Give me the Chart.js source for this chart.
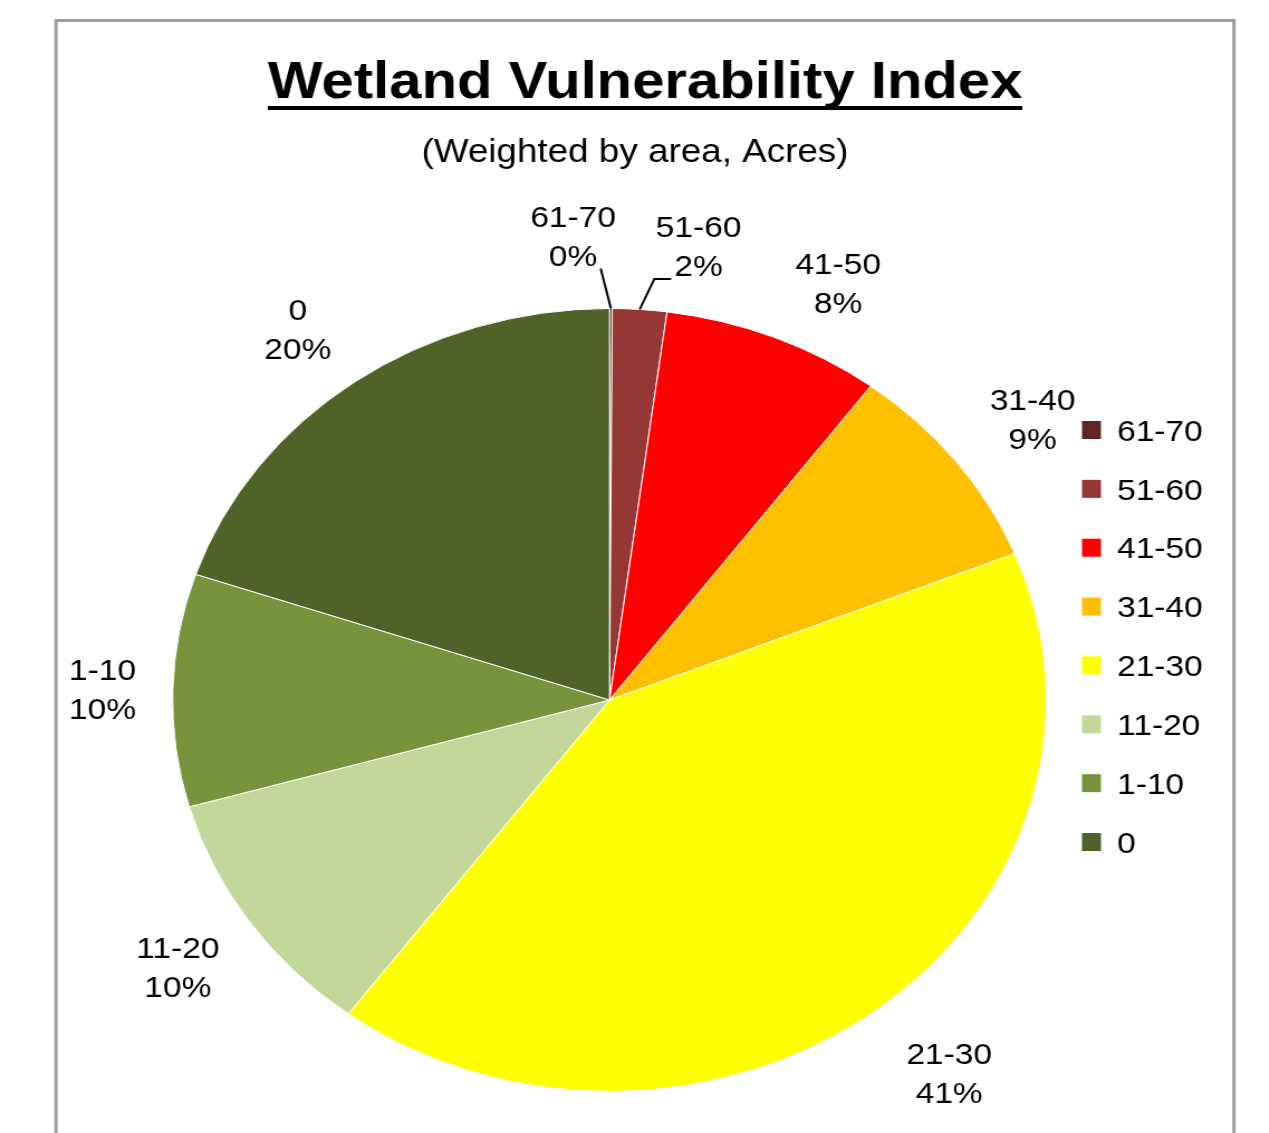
<!DOCTYPE html>
<html>
<head>
<meta charset="utf-8">
<script src="https://cdn.jsdelivr.net/npm/chart.js@4.4.0/dist/chart.umd.min.js"></script>
<style>
html,body{margin:0;padding:0;background:#fff;overflow:hidden;width:1269px;height:1133px;}
#wrap{position:absolute;left:0;top:0;width:1137px;height:1133px;transform:scaleX(1.116);transform-origin:0 0;}
canvas{display:block;}
</style>
</head>
<body>
<div id="wrap"><canvas id="chart" width="1137" height="1133"></canvas></div>
<script>
// ---- data ----
const categories = ['61-70', '51-60', '41-50', '31-40', '21-30', '11-20', '1-10', '0'];
const sharePercent = [0.1, 2.0, 8.1, 8.7, 41.3, 10.4, 9.6, 19.8];
const sliceColors = ['#632523', '#953735', '#FF0000', '#FFC000', '#FFFF00', '#C4D79B', '#77933C', '#4F6228'];
const titleText = 'Wetland Vulnerability Index';
const subtitleText = '(Weighted by area, Acres)';

// ---- styling / layout ----
const FONT = '"Liberation Sans", Arial, sans-serif';
const labelAngleNudge = { '61-70': -4.2, '51-60': 6, '41-50': 4, '31-40': 1, '21-30': -1.6, '0': -1.3 };
const labelRadialExtra = { '61-70': 5, '21-30': 10, '0': -5 };

const decorPlugin = {
  id: 'decor',
  beforeDraw(chart, args, opts) {
    const ctx = chart.ctx;
    ctx.save();
    ctx.fillStyle = '#fff';
    ctx.fillRect(0, 0, chart.width, chart.height);
    const f = opts.frame;
    ctx.strokeStyle = '#9e9e9e';
    ctx.lineWidth = 3;
    ctx.strokeRect(f.left, f.top, f.right - f.left, f.bottom - f.top);
    ctx.fillStyle = '#000';
    ctx.textAlign = 'center';
    ctx.textBaseline = 'alphabetic';
    ctx.font = `bold ${opts.title.size}px ${FONT}`;
    ctx.fillText(titleText, opts.title.x, opts.title.y);
    const tw = ctx.measureText(titleText).width;
    ctx.fillRect(opts.title.x - tw / 2, opts.title.y + opts.title.underlineOffset, tw, opts.title.underlineWidth);
    ctx.font = `${opts.subtitle.size}px ${FONT}`;
    ctx.fillText(subtitleText, opts.subtitle.x, opts.subtitle.y);
    ctx.restore();
  },
  afterDraw(chart, args, opts) {
    const ctx = chart.ctx;
    const ds = chart.data.datasets[0];
    const labels = chart.data.labels;
    ctx.save();
    // legend
    const lg = opts.legend;
    ctx.font = `${lg.size}px ${FONT}`;
    ctx.textAlign = 'left';
    ctx.textBaseline = 'alphabetic';
    labels.forEach((lab, i) => {
      const yc = lg.top + i * lg.step;
      ctx.fillStyle = ds.backgroundColor[i];
      ctx.fillRect(lg.boxX, yc - lg.boxH / 2, lg.boxW, lg.boxH);
      ctx.fillStyle = '#000';
      ctx.fillText(lab, lg.textX, yc + 0.358 * lg.size);
    });
    // data labels
    const dl = opts.dataLabels;
    const size = dl.size;
    const half = dl.lineGap / 2;
    const capHalf = 0.358 * size;
    ctx.font = `${size}px ${FONT}`;
    ctx.textAlign = 'center';
    const meta = chart.getDatasetMeta(0);
    const values = ds.data;
    const total = values.reduce((a, b) => a + b, 0);
    meta.data.forEach((arc, i) => {
      const p = arc.getProps(['x', 'y', 'startAngle', 'endAngle', 'outerRadius'], true);
      const pct = values[i] / total * 100;
      const pctText = Math.round(pct) + '%';
      const midTrue = (p.startAngle + p.endAngle) / 2;
      const mid = midTrue + (labelAngleNudge[labels[i]] || 0) * Math.PI / 180;
      const ux = Math.cos(mid), uy = Math.sin(mid);
      const w1 = ctx.measureText(labels[i]).width;
      const w2 = ctx.measureText(pctText).width;
      const hw = Math.max(w1, w2) / 2;
      const hh = half + capHalf + 6;
      const ex = Math.abs(ux) > 1e-6 ? hw / Math.abs(ux) : Infinity;
      const ey = Math.abs(uy) > 1e-6 ? hh / Math.abs(uy) : Infinity;
      const dist = p.outerRadius + dl.gap + (labelRadialExtra[labels[i]] || 0) + Math.min(ex, ey);
      const cx = p.x + ux * dist;
      const cy = p.y + uy * dist;
      ctx.fillStyle = '#000';
      ctx.fillText(labels[i], cx, cy - half + capHalf);
      ctx.fillText(pctText, cx, cy + half + capHalf);
      if (pct < dl.leaderBelow) {
        const ax = p.x + Math.cos(midTrue) * p.outerRadius;
        const ay = p.y + Math.sin(midTrue) * p.outerRadius;
        const left = cx - w2 / 2 - 3, right = cx + w2 / 2 + 3;
        const top = cy + half - capHalf - 3, bottom = cy + half + capHalf + 3;
        const qx = Math.min(Math.max(ax, left), right);
        const qy = Math.min(Math.max(ay, top), bottom);
        ctx.strokeStyle = '#000';
        ctx.lineWidth = 2;
        ctx.beginPath();
        ctx.moveTo(ax, ay);
        if (Math.abs(qx - ax) > 20) {
          const s = qx > ax ? 1 : -1;
          ctx.lineTo(qx - s * 15, qy);
        }
        ctx.lineTo(qx, qy);
        ctx.stroke();
      }
    });
    ctx.restore();
  }
};

new Chart(document.getElementById('chart'), {
  type: 'pie',
  data: {
    labels: categories,
    datasets: [{
      data: sharePercent,
      backgroundColor: sliceColors,
      borderColor: '#ffffff',
      borderWidth: 1
    }]
  },
  plugins: [decorPlugin],
  options: {
    responsive: false,
    devicePixelRatio: 1,
    animation: false,
    events: [],
    layout: { padding: { top: 308, bottom: 41, left: 154.2, right: 198.8 } },
    plugins: {
      legend: { display: false },
      title: { display: false },
      tooltip: { enabled: false },
      decor: {
        frame: { left: 50.2, top: 20.5, right: 1105.7, bottom: 1160 },
        title: { x: 578, y: 98, size: 52, underlineOffset: 8, underlineWidth: 4 },
        subtitle: { x: 569, y: 162, size: 33 },
        legend: { boxX: 969.5, boxW: 17, boxH: 18, textX: 1001, top: 430, step: 58.86, size: 30 },
        dataLabels: { size: 30, lineGap: 39, gap: 33, leaderBelow: 5 }
      }
    }
  }
});
</script>
</body>
</html>
